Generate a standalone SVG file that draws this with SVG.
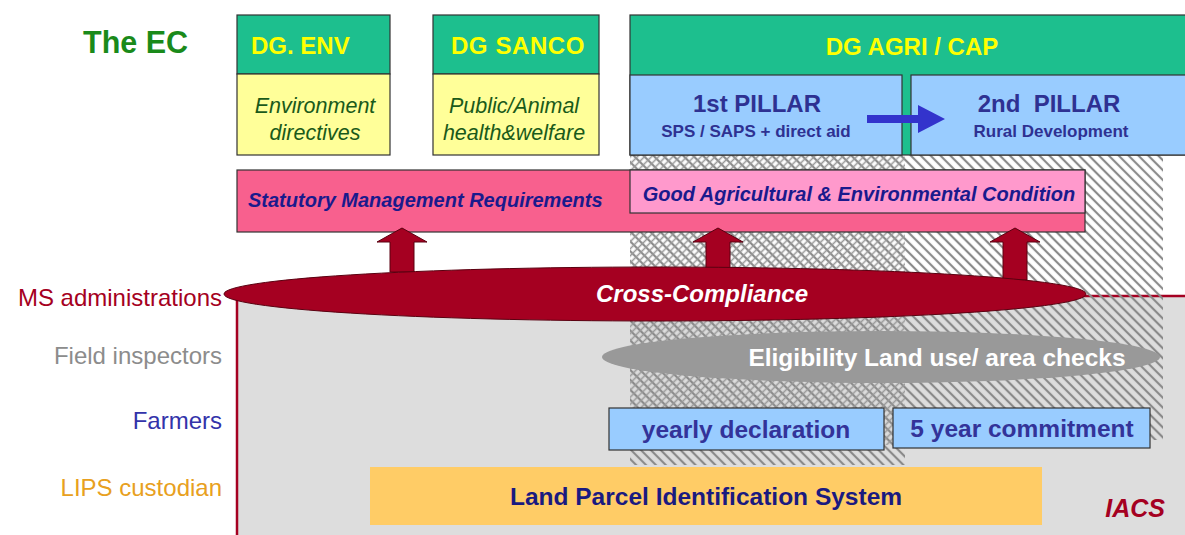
<svg xmlns="http://www.w3.org/2000/svg" width="1185" height="535" viewBox="0 0 1185 535">
<style>
text{font-family:"Liberation Sans",Arial,sans-serif;}
.b{font-weight:bold;}
.i{font-style:italic;}
.teal{fill:#1dbf8e;stroke:#333;stroke-width:1.2;}
.yel{fill:#ffff99;stroke:#333;stroke-width:1.2;}
.blue{fill:#99ccff;stroke:#333;stroke-width:1.2;}
.dgt{fill:#ffff00;font-weight:bold;font-size:24px;}
.dir{fill:#1a5a1a;font-style:italic;font-size:21.5px;text-anchor:middle;}
.pil{fill:#2e3192;font-weight:bold;text-anchor:middle;}
.lbl{font-size:24px;text-anchor:end;}
.big{font-weight:bold;font-size:24.5px;text-anchor:middle;}
.red{fill:#a50021;}
</style>
<defs>
<pattern id="diag" width="7" height="7" patternUnits="userSpaceOnUse" patternTransform="rotate(-45)">
<line x1="2" y1="0" x2="2" y2="7" stroke="#8a8a8a" stroke-width="2.2"/>
</pattern>
<pattern id="diag2" width="5" height="5" patternUnits="userSpaceOnUse" patternTransform="rotate(45)">
<line x1="1.5" y1="0" x2="1.5" y2="5" stroke="#9a9a9a" stroke-width="1.6"/>
</pattern>
</defs>
<rect width="1185" height="535" fill="#ffffff"/>

<g id="iacs-area">
<rect x="237" y="296" width="950" height="242" fill="#dddddd"/>
<path d="M237,538 V296 H1187" fill="none" stroke="#a50021" stroke-width="2.5"/>
<text x="1165" y="517" class="b i red" font-size="25" text-anchor="end">IACS</text>
</g>

<g id="hatch">
<rect x="630" y="155" width="275" height="310" fill="url(#diag)"/>
<rect x="905" y="155" width="258" height="285" fill="url(#diag)"/>
<rect x="630" y="155" width="275" height="290" fill="url(#diag2)"/>
</g>

<g id="the-ec">
<text x="83" y="53" font-size="30.5" class="b" fill="#1a8a1a">The EC</text>
</g>

<g id="dg-env">
<rect x="237" y="15" width="153" height="59" class="teal"/>
<rect x="237" y="74" width="153" height="81" class="yel"/>
<text x="251" y="54" class="dgt">DG. ENV</text>
<text x="315" y="113" class="dir">Environment</text>
<text x="315" y="140" class="dir">directives</text>
</g>

<g id="dg-sanco">
<rect x="433" y="15" width="166" height="59" class="teal"/>
<rect x="433" y="74" width="166" height="81" class="yel"/>
<text x="518" y="54" class="dgt" text-anchor="middle" letter-spacing="0.6">DG SANCO</text>
<text x="514" y="113" class="dir">Public/Animal</text>
<text x="514" y="140" class="dir">health&amp;welfare</text>
</g>

<g id="dg-agri">
<rect x="630" y="15" width="560" height="140" class="teal"/>
<text x="912" y="55" class="dgt" text-anchor="middle">DG AGRI / CAP</text>
</g>

<g id="pillar1">
<rect x="630" y="75" width="272" height="80" class="blue"/>
<text x="757" y="112" class="pil" font-size="24">1st PILLAR</text>
<text x="756" y="137" class="pil" font-size="17">SPS / SAPS + direct aid</text>
</g>

<g id="pillar2">
<rect x="911" y="75" width="280" height="80" class="blue"/>
<text x="1049" y="112" class="pil" font-size="24" xml:space="preserve">2nd  PILLAR</text>
<text x="1051" y="137" class="pil" font-size="17">Rural Development</text>
</g>

<g id="smr">
<rect x="237" y="170" width="848" height="62" fill="#f8608e" stroke="#333" stroke-width="1.2"/>
<text x="248" y="207" class="b i" font-size="20" fill="#1a1a8c">Statutory Management Requirements</text>
</g>

<g id="gaec">
<rect x="630" y="170" width="455" height="43" fill="#ff99cc" stroke="#333" stroke-width="1.2"/>
<text x="859" y="201" class="b i" font-size="20" fill="#1a1a8c" text-anchor="middle">Good Agricultural &amp; Environmental Condition</text>
</g>

<g id="connectors">
<path d="M867,115 H918 V105 L945,119 L918,133 V123 H867 Z" fill="#3333cc"/>
<path d="M390,272 V242 H377 L402,228 L427,242 H414 V272 Z" fill="#a50021" stroke="#5a0010" stroke-width="1"/>
<path d="M706,272 V242 H693 L718,228 L743,242 H730 V272 Z" fill="#a50021" stroke="#5a0010" stroke-width="1"/>
<path d="M1003,280 V242 H990 L1015,228 L1040,242 H1027 V280 Z" fill="#a50021" stroke="#5a0010" stroke-width="1"/>
</g>

<g id="cross-compliance">
<ellipse cx="655" cy="294" rx="431" ry="27" fill="#a50021" stroke="#5a0010" stroke-width="1"/>
<text x="702" y="302" class="b i" font-size="24" fill="#ffffff" text-anchor="middle">Cross-Compliance</text>
</g>

<g id="eligibility">
<ellipse cx="881" cy="357" rx="279" ry="26" fill="#999999"/>
<text x="937" y="366" class="big" fill="#ffffff">Eligibility Land use/ area checks</text>
</g>

<g id="yearly">
<rect x="609" y="408" width="275" height="42" class="blue"/>
<text x="746" y="438" class="big" fill="#333399">yearly declaration</text>
</g>

<g id="five-year">
<rect x="893" y="408" width="257" height="40" class="blue"/>
<text x="1022" y="437" class="big" fill="#333399">5 year commitment</text>
</g>

<g id="lpis">
<rect x="370" y="467" width="672" height="58" fill="#ffcc66"/>
<text x="706" y="505" class="big" fill="#1a1a80">Land Parcel Identification System</text>
</g>

<g id="labels">
<text x="222" y="306" class="lbl" fill="#a50021">MS administrations</text>
<text x="222" y="364" class="lbl" fill="#8c8c8c">Field inspectors</text>
<text x="222" y="429" class="lbl" fill="#3333aa">Farmers</text>
<text x="222" y="496" class="lbl" fill="#e8a020">LIPS custodian</text>
</g>
</svg>
